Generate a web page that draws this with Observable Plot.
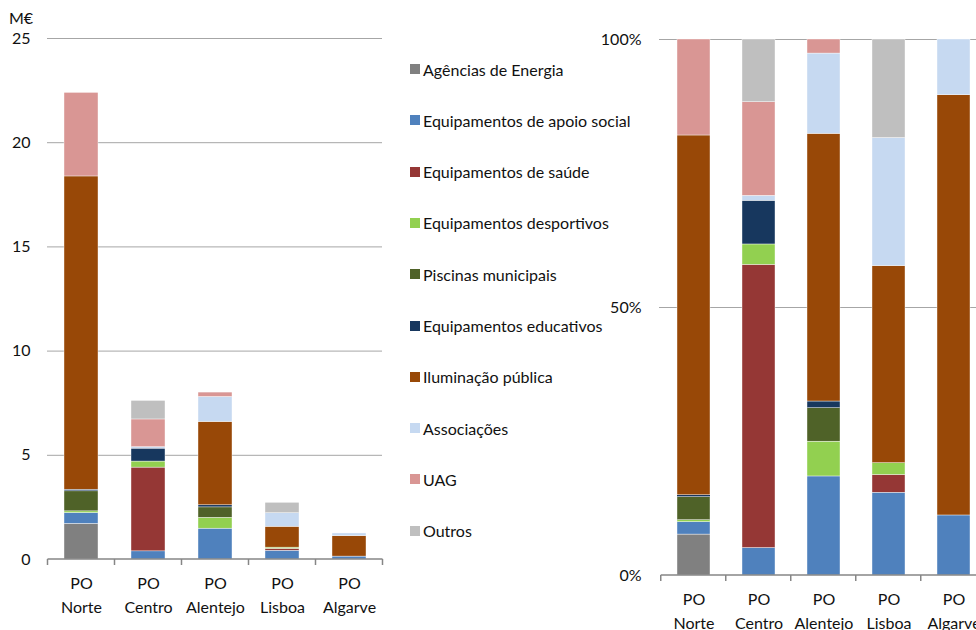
<!DOCTYPE html>
<html><head><meta charset="utf-8">
<script src="https://cdn.jsdelivr.net/npm/d3@7"></script>
<script src="https://cdn.jsdelivr.net/npm/@observablehq/plot@0.6"></script>
<style>
body{margin:0;background:#fff;}
#root{position:relative;width:976px;height:630px;overflow:hidden;font-family:Lato,sans-serif;color:#111;}
#left{position:absolute;left:0;top:0;}
#right{position:absolute;left:600px;top:0;width:400px;}
#unit{position:absolute;left:9px;top:8px;font-size:16px;}
#legend{position:absolute;left:410px;top:0;}
.item{position:absolute;left:0;height:20px;display:flex;align-items:center;font-size:16px;white-space:nowrap;}
.sw{width:10px;height:10px;margin-right:3px;flex:none;}
svg{max-width:none !important;}
</style></head><body>
<div id="root"><div id="left"></div><div id="unit">M€</div><div id="legend"></div><div id="right"></div></div>
<script>
const categories = ["PO Norte","PO Centro","PO Alentejo","PO Lisboa","PO Algarve"];
const seriesNames = ["Agências de Energia","Equipamentos de apoio social","Equipamentos de saúde","Equipamentos desportivos","Piscinas municipais","Equipamentos educativos","Iluminação pública","Associações","UAG","Outros"];
const seriesColors = ["#808080","#4F81BD","#953735","#92D050","#4F6228","#17375E","#984807","#C6D9F1","#D99694","#BFBFBF"];
// values in M€, per category (Norte, Centro, Alentejo, Lisboa, Algarve)
const agencias     = [1.71, 0,    0,    0,    0];
const apoioSocial  = [0.52, 0.39, 1.48, 0.42, 0.14];
const saude        = [0,    4.02, 0,    0.09, 0];
const desportivos  = [0.08, 0.29, 0.52, 0.06, 0];
const piscinas     = [0.96, 0,    0.50, 0,    0];
const educativos   = [0.08, 0.62, 0.10, 0,    0];
const iluminacao   = [15.03,0,    4.00, 1.00, 0.98];
const associacoes  = [0,    0.07, 1.20, 0.65, 0.13];
const uag          = [4.01, 1.33, 0.21, 0,    0];
const outros       = [0,    0.89, 0,    0.50, 0];
const leftTicks = [0,5,10,15,20,25];
const rightTicks = [0,0.5,1];

const seriesValues = [agencias,apoioSocial,saude,desportivos,piscinas,educativos,iluminacao,associacoes,uag,outros];
const table = [];
seriesNames.forEach((s,si)=>categories.forEach((c,ci)=>{
  const v = seriesValues[si][ci];
  if (v>0) table.push({cat:c, series:s, value:v});
}));

function edgeTicks(){
  return (index, scales, values, dims) => {
    const x = scales.x, y = scales.y;
    const n = categories.length;
    const step = (dims.width - dims.marginLeft - dims.marginRight)/n;
    const bw = x.bandwidth ? x.bandwidth() : step/2;
    const edges = categories.map(c => x(c) - (step-bw)/2);
    edges.push(x(categories[n-1]) + bw + (step-bw)/2);
    const y0 = y(0);
    const g = d3.create("svg:g").attr("stroke","#868686").attr("stroke-width",1.5).attr("fill","none");
    g.append("line").attr("x1",edges[0]).attr("x2",edges[n]).attr("y1",y0).attr("y2",y0);
    for (const e of edges) g.append("line").attr("x1",e).attr("x2",e).attr("y1",y0).attr("y2",y0+6);
    return g.node();
  };
}

const common = {
  height: 630,
  style: {fontFamily:"Lato, sans-serif", fontSize:"16px", color:"#111", background:"transparent", overflow:"visible", maxWidth:"none"},
  x: {domain: categories, paddingInner: 0.5, paddingOuter: 0.25, label: null},
  color: {domain: seriesNames, range: seriesColors}
};

const left = Plot.plot({
  ...common,
  width: 390, marginLeft: 47, marginRight: 8, marginTop: 38, marginBottom: 71,
  y: {domain:[0,25], label:null},
  marks: [
    Plot.gridY(leftTicks.filter(t=>t>0), {stroke:"#a6a6a6", strokeOpacity:1, strokeWidth:1}),
    Plot.axisY(leftTicks, {tickSize:0, tickPadding:17, label:null, fontSize:16}),
    Plot.barY(table, Plot.stackY({x:"cat", y:"value", fill:"series", stroke:"white", strokeWidth:0.4})),
    Plot.axisX({tickSize:0, tickPadding:12, label:null, lineHeight:1.5, fontSize:16, tickFormat: d=>d.replace(" ","\n")}),
    edgeTicks()
  ]
});
document.getElementById("left").appendChild(left);

const right = Plot.plot({
  ...common,
  width: 400, marginLeft: 59, marginRight: 13.5, marginTop: 39, marginBottom: 55,
  y: {domain:[0,1], label:null},
  marks: [
    Plot.gridY(rightTicks.filter(t=>t>0), {stroke:"#a6a6a6", strokeOpacity:1, strokeWidth:1}),
    Plot.axisY(rightTicks, {tickSize:0, tickPadding:18, label:null, fontSize:16, tickFormat: d=>Math.round(d*100)+"%"}),
    Plot.barY(table, Plot.stackY({x:"cat", y:"value", fill:"series", offset:"normalize", stroke:"white", strokeWidth:0.4})),
    Plot.axisX({tickSize:0, tickPadding:12, label:null, lineHeight:1.5, fontSize:16, tickFormat: d=>d.replace(" ","\n")}),
    edgeTicks()
  ]
});
document.getElementById("right").appendChild(right);

const legend = d3.select("#legend");
seriesNames.forEach((s,i)=>{
  const it = legend.append("div").attr("class","item").style("top",(69 + i*51.3 - 10)+"px");
  it.append("div").attr("class","sw").style("background",seriesColors[i]);
  it.append("span").text(s);
});
</script>
</body></html>
